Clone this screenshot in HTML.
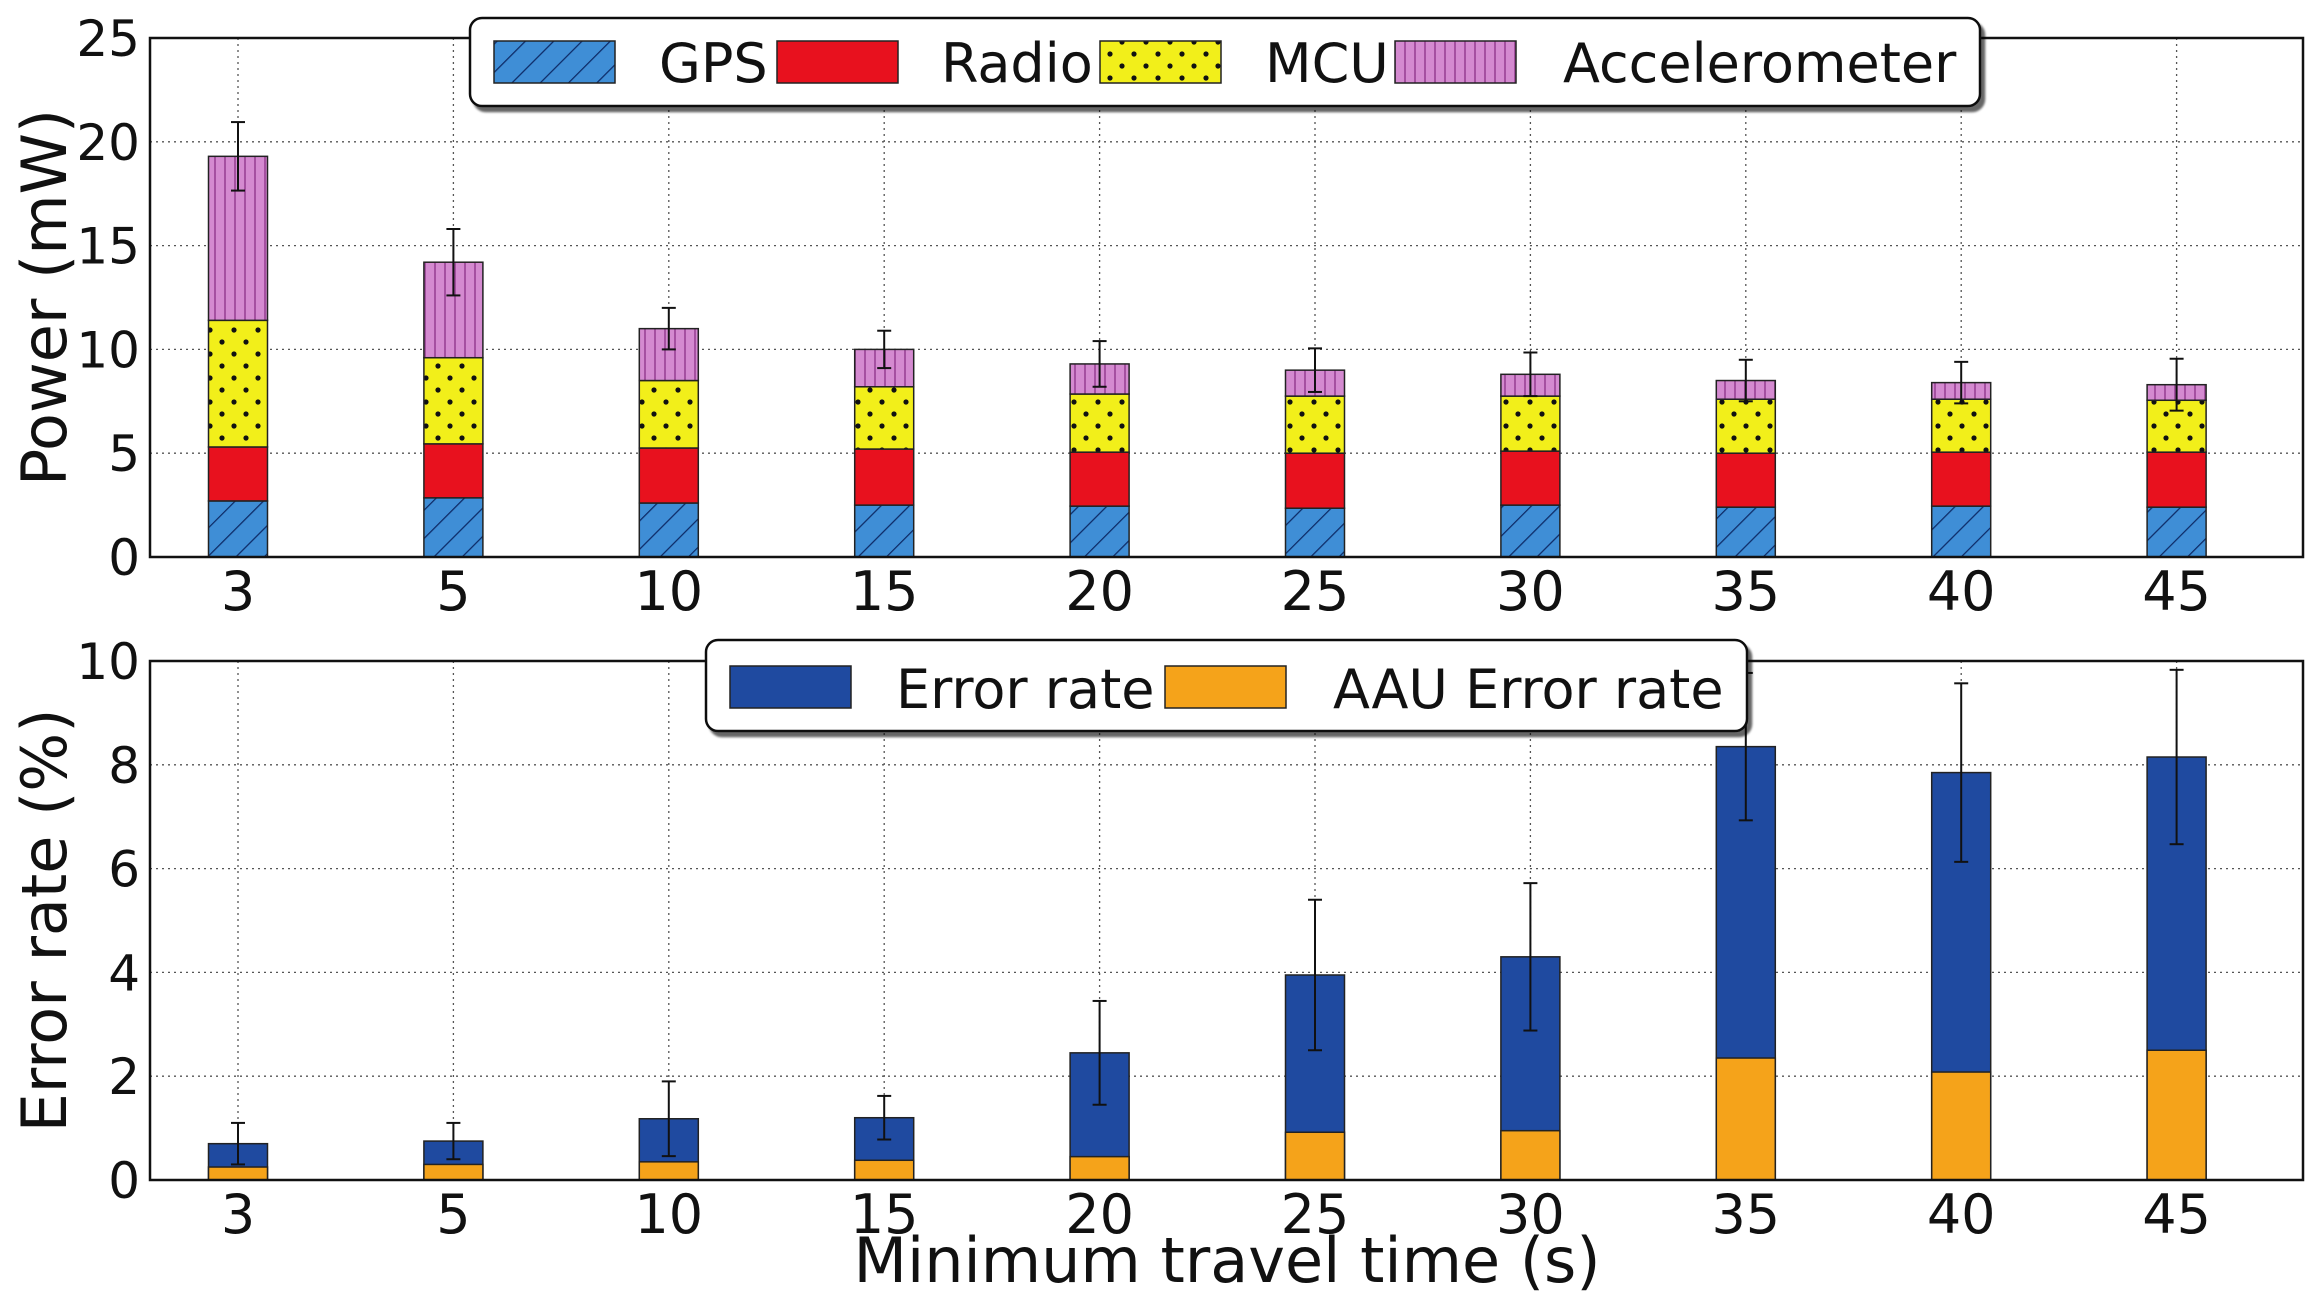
<!DOCTYPE html>
<html><head><meta charset="utf-8">
<style>
html,body{margin:0;padding:0;background:#fff;}
svg{display:block;font-family:"DejaVu Sans","Liberation Sans",sans-serif;}
</style></head>
<body>
<svg id="chart" width="2312" height="1305" viewBox="0 0 2312 1305" xmlns="http://www.w3.org/2000/svg">
<defs>
<pattern id="hatchGPS" patternUnits="userSpaceOnUse" width="20" height="20" patternTransform="rotate(45)">
<rect width="20" height="20" fill="#3f8ed6"/><line x1="0" y1="0" x2="0" y2="20" stroke="#0d2a66" stroke-width="2.5"/></pattern>
<pattern id="dotsMCU" patternUnits="userSpaceOnUse" width="24" height="24">
<rect width="24" height="24" fill="#f2ef1a"/><circle cx="6" cy="6" r="2.6" fill="#111"/><circle cx="18" cy="18" r="2.6" fill="#111"/></pattern>
<pattern id="vlinesAcc" patternUnits="userSpaceOnUse" width="10" height="10">
<rect width="10" height="10" fill="#d48ad0"/><line x1="5" y1="0" x2="5" y2="10" stroke="#a04a9c" stroke-width="1.8"/></pattern>
<filter id="shadow" x="-5%" y="-20%" width="110%" height="150%"><feDropShadow dx="4" dy="5" stdDeviation="1" flood-color="#000" flood-opacity="0.6"/></filter>
</defs>
<g id="top"></g>
<g id="bottom"></g>
</svg>
<script>
const categories = ["3","5","10","15","20","25","30","35","40","45"];
const gps   = [2.7, 2.85, 2.6, 2.5, 2.45, 2.35, 2.5, 2.4, 2.45, 2.4];
const radio = [2.6, 2.6, 2.65, 2.7, 2.6, 2.65, 2.6, 2.6, 2.6, 2.65];
const mcu   = [6.1, 4.15, 3.25, 3.0, 2.8, 2.75, 2.65, 2.6, 2.55, 2.5];
const accel = [7.9, 4.6, 2.5, 1.8, 1.45, 1.25, 1.05, 0.9, 0.8, 0.75];
const powerErr = [1.65, 1.6, 1.0, 0.9, 1.1, 1.05, 1.05, 1.0, 1.0, 1.25];
const errorRate = [0.7, 0.75, 1.18, 1.2, 2.45, 3.95, 4.3, 8.35, 7.85, 8.15];
const aauErrorRate = [0.25, 0.3, 0.35, 0.38, 0.45, 0.92, 0.95, 2.35, 2.08, 2.5];
const errorRateErr = [0.4, 0.35, 0.72, 0.42, 1.0, 1.45, 1.42, 1.42, 1.72, 1.68];
const powerTicks = [0,5,10,15,20,25];
const errTicks = [0,2,4,6,8,10];

const NS="http://www.w3.org/2000/svg";
function mk(parent,tag,attrs,text){const e=document.createElementNS(NS,tag);for(const k in attrs)e.setAttribute(k,attrs[k]);if(text!==undefined)e.textContent=text;parent.appendChild(e);return e;}
const X0=150,X1=2303,C0=238,CS=215.4,BW=59;
function xPos(i){return C0+i*CS;}

function axes(g,y0,y1,max,ticks,yTitle,name){
  const y=v=>y0-(v/max)*(y0-y1);
  ticks.forEach(t=>{
    if(t>0&&t<max){const l=mk(g,'line',{x1:X0,x2:X1,y1:y(t),y2:y(t),stroke:'#555','stroke-width':1.3,'stroke-dasharray':'2,4'});
    
    }
    const tx=mk(g,'text',{x:X0-10,y:y(t)+18,'text-anchor':'end','font-size':50,fill:'#111'},t);
    
    
  });
  categories.forEach((c,i)=>{
    const l=mk(g,'line',{x1:xPos(i),x2:xPos(i),y1:y1,y2:y0,stroke:'#555','stroke-width':1.3,'stroke-dasharray':'2,4'});
    
    
    const tx=mk(g,'text',{x:xPos(i),y:y0+53,'text-anchor':'middle','font-size':54,fill:'#111'},c);
    
    
  });
  const yc=(y0+y1)/2;
  const t=mk(g,'text',{x:0,y:0,transform:`translate(66,${yc}) rotate(-90)`,'text-anchor':'middle','font-size':62,fill:'#111'},yTitle);
  
  
  return y;
}
function frame(g,y0,y1){
  const r=mk(g,'rect',{x:X0,y:y1,width:X1-X0,height:y0-y1,fill:'none',stroke:'#111','stroke-width':2.5});
  
  
}
function errBar(g,x,yt,yb){
  const e=mk(g,'g',{stroke:'#111','stroke-width':2});
  
  
  mk(e,'line',{x1:x,x2:x,y1:yt,y2:yb});
  mk(e,'line',{x1:x-7,x2:x+7,y1:yt,y2:yt});
  mk(e,'line',{x1:x-7,x2:x+7,y1:yb,y2:yb});
}

// top chart
const gt=document.getElementById('top');
const yT=axes(gt,557,38,25,powerTicks,'Power (mW)','y-axis-title-power');
const series=[[gps,'url(#hatchGPS)','gps'],[radio,'#e8111e','radio'],[mcu,'url(#dotsMCU)','mcu'],[accel,'url(#vlinesAcc)','accelerometer']];
categories.forEach((c,i)=>{
  let base=0;
  series.forEach(([arr,fill,nm])=>{
    const top=base+arr[i];
    const r=mk(gt,'rect',{x:xPos(i)-BW/2,y:yT(top),width:BW,height:yT(base)-yT(top),fill:fill,stroke:'#222','stroke-width':1.5});
    
    
    base=top;
  });
  errBar(gt,xPos(i),yT(base+powerErr[i]),yT(base-powerErr[i]));
});
frame(gt,557,38);
// top legend
const lt=mk(gt,'g',{});


mk(lt,'rect',{x:470,y:18,width:1510,height:88,rx:12,fill:'#fff',stroke:'#111','stroke-width':2.5,filter:'url(#shadow)'});
[[494,659,'url(#hatchGPS)','GPS'],[777,941,'#e8111e','Radio'],[1100,1265,'url(#dotsMCU)','MCU'],[1395,1563,'url(#vlinesAcc)','Accelerometer']].forEach(([px,tx,f,l])=>{
  const e=mk(lt,'g',{});
  
  
  mk(e,'rect',{x:px,y:41,width:121,height:42,fill:f,stroke:'#222','stroke-width':1.5});
  mk(e,'text',{x:tx,y:82,'font-size':54,fill:'#111'},l);
});

// bottom chart
const gb=document.getElementById('bottom');
const yB=axes(gb,1180,661,10,errTicks,'Error rate (%)','y-axis-title-error');
categories.forEach((c,i)=>{
  const r=mk(gb,'rect',{x:xPos(i)-BW/2,y:yB(errorRate[i]),width:BW,height:yB(0)-yB(errorRate[i]),fill:'#1f4aa0',stroke:'#222','stroke-width':1.5});
  
  
  const r2=mk(gb,'rect',{x:xPos(i)-BW/2,y:yB(aauErrorRate[i]),width:BW,height:yB(0)-yB(aauErrorRate[i]),fill:'#f5a31a',stroke:'#222','stroke-width':1.5});
  
  
  errBar(gb,xPos(i),yB(errorRate[i]+errorRateErr[i]),yB(errorRate[i]-errorRateErr[i]));
});
frame(gb,1180,661);
const lb=mk(gb,'g',{});


mk(lb,'rect',{x:706,y:640,width:1041,height:91,rx:12,fill:'#fff',stroke:'#111','stroke-width':2.5,filter:'url(#shadow)'});
[[730,896,'#1f4aa0','Error rate'],[1165,1333,'#f5a31a','AAU Error rate']].forEach(([px,tx,f,l])=>{
  const e=mk(lb,'g',{});
  
  
  mk(e,'rect',{x:px,y:666,width:121,height:42,fill:f,stroke:'#222','stroke-width':1.5});
  mk(e,'text',{x:tx,y:708,'font-size':54,fill:'#111'},l);
});
const xt=mk(gb,'text',{x:1227,y:1282,'text-anchor':'middle','font-size':62,fill:'#111'},'Minimum travel time (s)');


</script>
</body></html>
